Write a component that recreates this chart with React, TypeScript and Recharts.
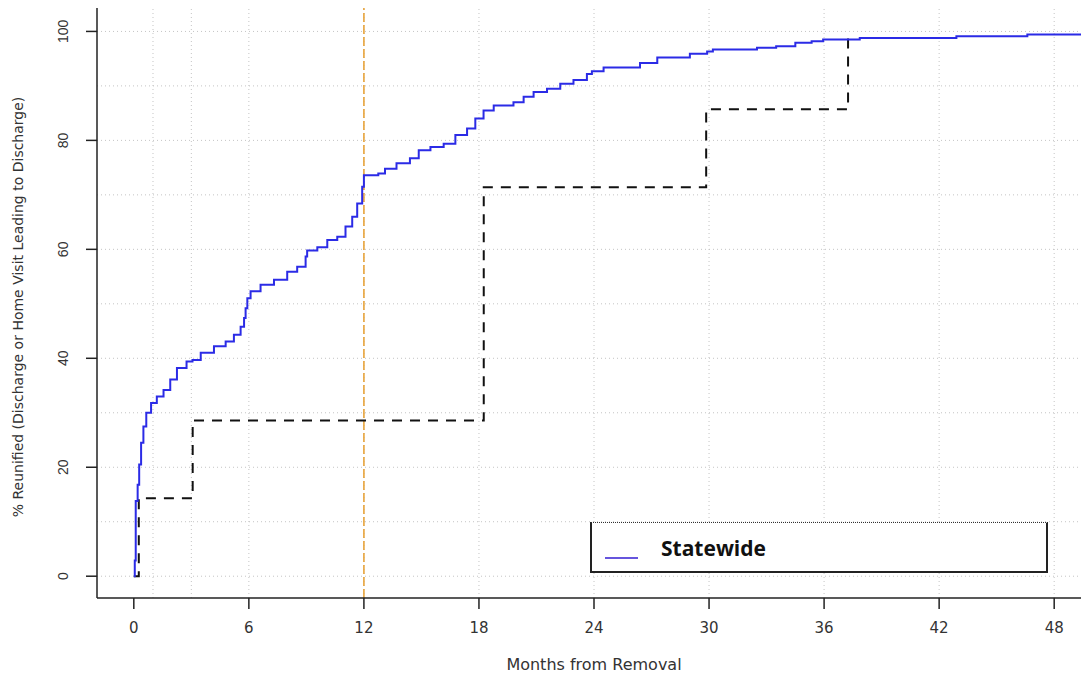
import React from "react";
import { LineChart, Line, XAxis, YAxis, ReferenceLine, Legend } from "recharts";

// Statewide reunification curve (months, %)
const statewideMonths = [0, 0.05, 0.1, 0.2, 0.28, 0.38, 0.5, 0.65, 0.9, 1.2, 1.55, 1.9, 2.25, 2.75, 3.06, 3.49, 4.18, 4.79, 5.22, 5.57, 5.75, 5.83, 5.92, 6.09, 6.61, 7.31, 8.0, 8.52, 8.96, 9.04, 9.57, 10.09, 10.61, 11.04, 11.39, 11.65, 11.91, 12.0, 12.75, 13.1, 13.7, 14.4, 14.86, 15.47, 16.16, 16.77, 17.38, 17.81, 18.24, 18.77, 19.8, 20.33, 20.85, 21.55, 22.24, 22.93, 23.63, 23.89, 24.5, 26.4, 27.3, 29.0, 29.9, 30.2, 32.5, 33.5, 34.5, 35.35, 35.95, 37.86, 42.9, 46.6, 52];
const statewideValues = [0, 2.9, 13.8, 16.8, 20.5, 24.5, 27.5, 30, 31.8, 33, 34.2, 36.1, 38.2, 39.4, 39.7, 41, 42.2, 43.1, 44.3, 45.8, 47.4, 49.2, 51, 52.3, 53.5, 54.4, 55.9, 56.8, 58.7, 59.8, 60.4, 61.7, 62.3, 64.2, 66, 68.4, 71.5, 73.6, 73.9, 74.8, 75.8, 76.7, 78.2, 78.8, 79.4, 81, 82.2, 84, 85.5, 86.4, 87, 88, 88.9, 89.5, 90.4, 91.1, 92.2, 92.7, 93.4, 94.2, 95.2, 95.9, 96.3, 96.7, 97.0, 97.3, 97.9, 98.2, 98.5, 98.8, 99.1, 99.45, 99.45];

// Comparison step curve (dashed)
const stepMonths = [0, 0.26, 3.07, 18.25, 29.85, 37.25];
const stepValues = [0, 14.3, 28.6, 71.4, 85.7, 100];

const xTicks = [0, 6, 12, 18, 24, 30, 36, 42, 48];
const yTicks = [0, 20, 40, 60, 80, 100];
const gridX = [1, 3, 6, 12, 18, 24, 30, 36, 42, 48];
const gridY = [0, 10, 20, 30, 40, 50, 60, 70, 80, 90, 100];
const markerMonth = 12;

const statewideData = statewideMonths.map((m, i) => ({ m, v: statewideValues[i] }));
const stepData = stepMonths.map((m, i) => ({ m, v: stepValues[i] }));

const FONT = "'Liberation Sans', Arial, Helvetica, sans-serif";
const WIDE = "'DejaVu Sans', Verdana, sans-serif";

const YTick = (props: any) => {
  const { x, y, payload } = props;
  const cx = x - 21;
  return (
    <text
      x={cx}
      y={y}
      transform={`rotate(-90, ${cx}, ${y})`}
      textAnchor="middle"
      dominantBaseline="central"
      fontSize={14}
      fontFamily={FONT}
      fill="#333"
    >
      {payload.value}
    </text>
  );
};

const LegendBox = () => (
  <div
    style={{
      width: 458,
      height: 51,
      boxSizing: "border-box",
      borderLeft: "2px solid #222",
      borderRight: "2px solid #222",
      borderBottom: "2px solid #222",
      borderTop: "1.5px dotted #333",
      background: "#fff",
      position: "relative",
    }}
  >
    <svg width={40} height={20} style={{ position: "absolute", left: 13, top: 25 }}>
      <line x1={0} y1={10} x2={33} y2={10} stroke="#6655dd" strokeWidth={2} />
    </svg>
    <span
      style={{
        position: "absolute",
        left: 69,
        top: 13,
        fontFamily: "'Open Sans', 'Noto Sans', sans-serif",
        fontWeight: 700,
        fontSize: 21,
        color: "#111",
        lineHeight: "24px",
      }}
    >
      Statewide
    </span>
  </div>
);

export default function App() {
  return (
    <div style={{ position: "absolute", left: 0, top: 0, width: 1081, height: 677, overflow: "hidden", background: "#fff" }}>
      <LineChart width={1100} height={677} margin={{ top: 8, right: 9, left: 37, bottom: 19 }}>
        <XAxis
          dataKey="m"
          type="number"
          domain={[-1.92, 49.92]}
          ticks={xTicks}
          allowDataOverflow
          height={60}
          tickSize={11}
          tickMargin={13}
          stroke="#222"
          strokeWidth={1.5}
          tick={{ fontSize: 15, fontFamily: WIDE, fill: "#333" }}
          label={{ value: "Months from Removal", position: "insideBottom", offset: -12, fontSize: 16, fontFamily: WIDE, fill: "#333" }}
        />
        <XAxis xAxisId="top" orientation="top" type="number" domain={[0, 1]} height={0} tick={false} tickLine={false} stroke="#222" strokeWidth={1.5} />
        <YAxis
          type="number"
          domain={[-4, 104.3]}
          ticks={yTicks}
          allowDataOverflow
          width={60}
          tickSize={11}
          tickMargin={2}
          stroke="#222"
          strokeWidth={1.5}
          tick={<YTick />}
          label={{
            value: "% Reunified (Discharge or Home Visit Leading to Discharge)",
            angle: -90,
            position: "left",
            offset: 19,
            fontSize: 14,
            fontFamily: WIDE,
            fill: "#333",
            dy: 4,
            style: { textAnchor: "middle" },
          }}
        />
        {gridY.map((g) => (
          <ReferenceLine key={`gy${g}`} y={g} stroke="#c4c4c4" strokeDasharray="1 3" strokeWidth={1} />
        ))}
        {gridX.map((g) => (
          <ReferenceLine key={`gx${g}`} x={g} stroke="#c4c4c4" strokeDasharray="1 3" strokeWidth={1} />
        ))}
        <ReferenceLine x={markerMonth} stroke="#e8a43c" strokeDasharray="9 3" strokeWidth={1.6} />
        <Line
          data={stepData}
          dataKey="v"
          type="stepAfter"
          stroke="#111"
          strokeWidth={2}
          strokeDasharray="10 8"
          dot={false}
          isAnimationActive={false}
          legendType="none"
        />
        <Line
          data={statewideData}
          dataKey="v"
          type="stepAfter"
          stroke="#2b2be6"
          strokeWidth={2}
          dot={false}
          isAnimationActive={false}
          name="Statewide"
        />
        <Legend
          layout="horizontal"
          verticalAlign="middle"
          align="center"
          content={<LegendBox />}
          wrapperStyle={{ position: "absolute", left: 590, top: 522, width: 458, height: 51 }}
        />
      </LineChart>
    </div>
  );
}
